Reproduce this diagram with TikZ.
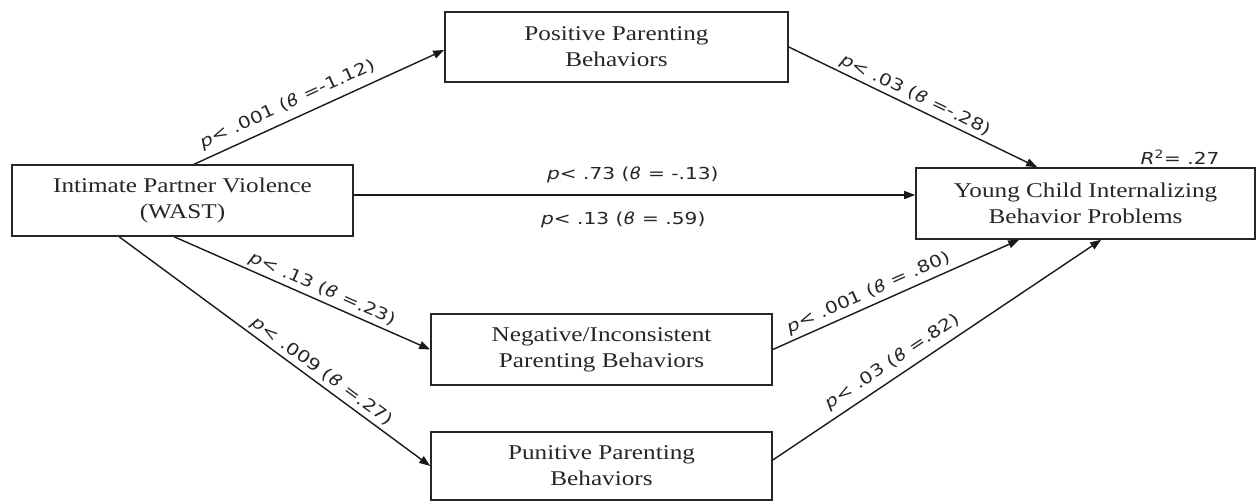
\documentclass[tikz,border=0pt]{standalone}
\usepackage{fontspec}
\setmainfont{Liberation Serif}[FakeStretch=1.2]
\newfontfamily\labfont{DejaVu Sans}[FakeStretch=1.22]
\usetikzlibrary{arrows.meta,calc}
\newcommand\Pl{\textit{p}<}
\newcommand\Bt{\textit{ϐ}}
\begin{document}
\begin{tikzpicture}[x=1pt,y=-1pt,
  box/.style={draw=black!85, line width=1.6pt, align=center, inner sep=0pt,
    font=\fontsize{21}{26}\selectfont, text=black!85},
  arr/.style={line width=1.4pt, draw=black!90, -{Triangle[length=11pt,width=8pt]}},
  lab/.style={font=\labfont\fontsize{16.5}{18}\selectfont, inner sep=0pt, text=black!85},
]
\useasboundingbox (0,0) rectangle (1256,502);
\node[box, minimum width=341pt, minimum height=71pt] (ipv) at (182.5,200.5) {Intimate Partner Violence\\(WAST)};
\node[box, minimum width=343pt, minimum height=70pt] (pos) at (616.5,47) {Positive Parenting\\Behaviors};
\node[box, minimum width=339pt, minimum height=71pt] (young) at (1085.5,203.5) {Young Child Internalizing\\Behavior Problems};
\node[box, minimum width=341pt, minimum height=71pt] (neg) at (601.5,349.5) {Negative/Inconsistent\\Parenting Behaviors};
\node[box, minimum width=341pt, minimum height=68pt] (pun) at (601.5,466) {Punitive Parenting\\Behaviors};
\node[lab] (r2) at (1180,157) {\textit{R}\textsuperscript{2}= .27};

\draw[arr] ([xshift=183pt]ipv.north west) -- ([yshift=-3pt]pos.west)
  node[lab, sloped, pos=0.4, above=7pt] {\Pl{} .001 (\Bt{} =-1.12)};
\draw[arr] (pos.east) -- ([xshift=122pt]young.north west)
  node[lab, sloped, pos=0.49, above=3pt] {\Pl{} .03 (\Bt{} =-.28)};
\coordinate (h1) at ([yshift=5.5pt]ipv.east);
\draw[arr] (h1) -- (h1 -| young.west)
  node[lab, pos=0.497, above=11pt] {\Pl{} .73 (\Bt{} = -.13)}
  node[lab, pos=0.48, below=16pt] {\Pl{} .13 (\Bt{} = .59)};
\draw[arr] ([xshift=163pt]ipv.south west) -- (neg.west)
  node[lab, sloped, pos=0.56, above=3pt] {\Pl{} .13 (\Bt{} =.23)};
\draw[arr] ([xshift=108pt]ipv.south west) -- (pun.west)
  node[lab, sloped, pos=0.63, above=3pt] {\Pl{} .009 (\Bt{} =.27)};
\draw[arr] (neg.east) -- ([xshift=104pt]young.south west)
  node[lab, sloped, pos=0.41, above=4pt] {\Pl{} .001 (\Bt{} = .80)};
\draw[arr] ([yshift=6pt]pun.east) -- ([xshift=186pt]young.south west)
  node[lab, sloped, pos=0.39, above=6pt] {\Pl{} .03 (\Bt{} =.82)};
\end{tikzpicture}
\end{document}
